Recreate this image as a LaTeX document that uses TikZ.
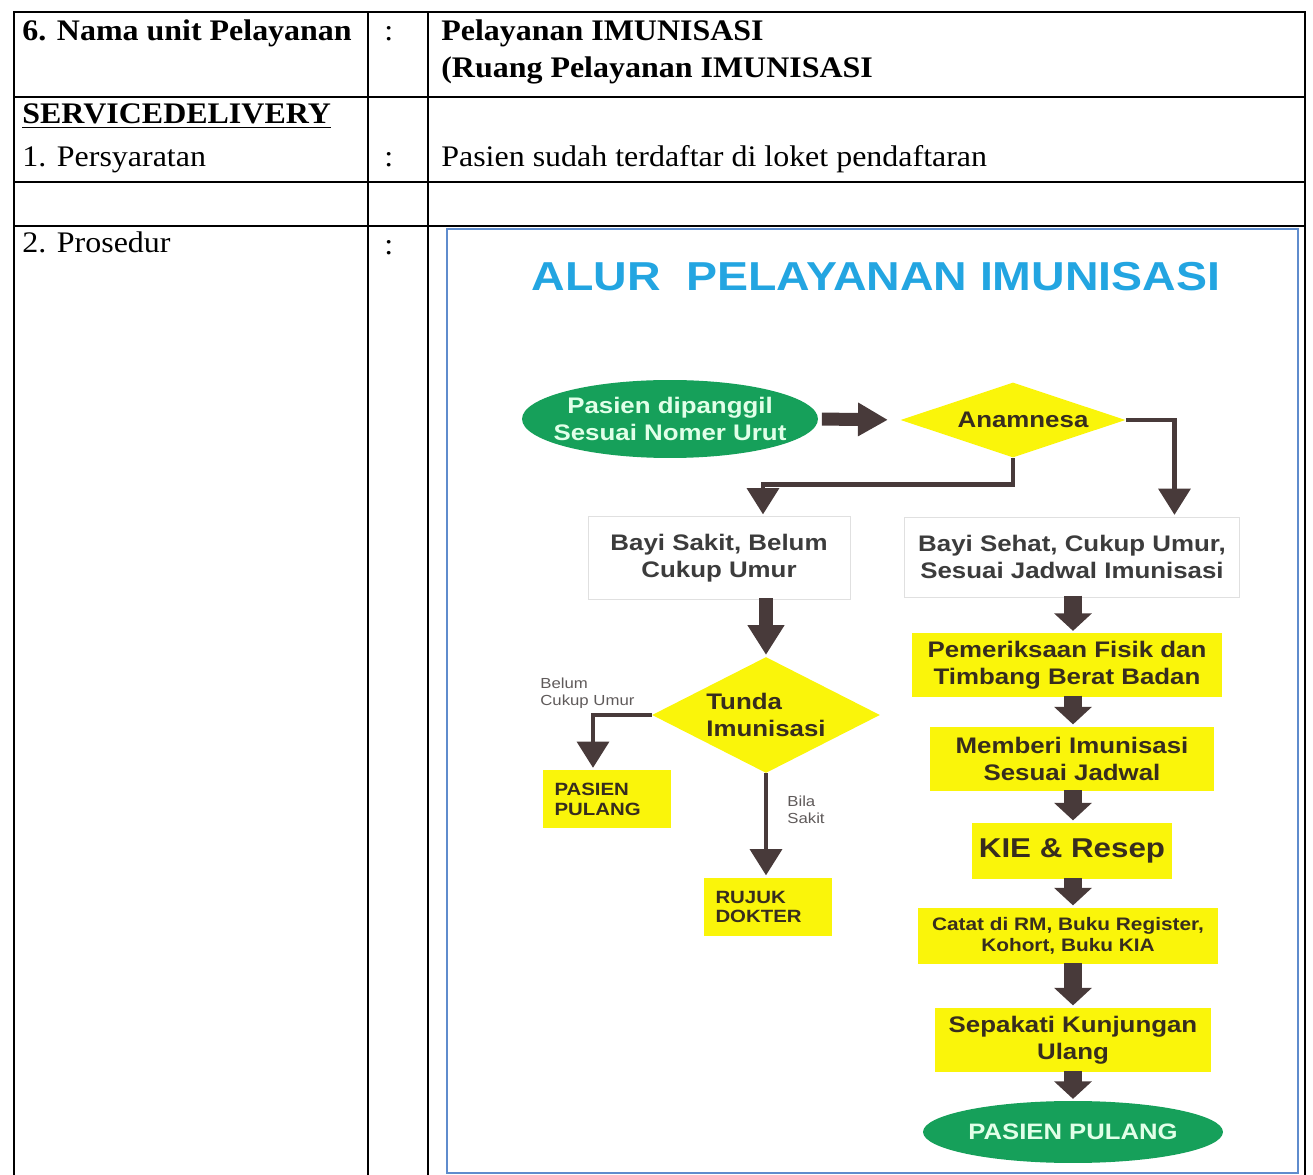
\documentclass[tikz,border=0pt]{standalone}
\usepackage{fontspec}
\setmainfont{Liberation Serif}[FakeStretch=1.07]
\newfontfamily\flowfont{Liberation Sans}[FakeStretch=1.15]
\usetikzlibrary{positioning,shapes.geometric,arrows.meta}

\definecolor{boxyellow}{RGB}{250,245,10}
\definecolor{boxtext}{RGB}{55,45,30}
\definecolor{graytext}{RGB}{60,60,60}
\definecolor{notegray}{RGB}{95,90,90}
\definecolor{ovalgreen}{RGB}{22,160,90}
\definecolor{ovaltext}{RGB}{225,255,232}
\definecolor{arrowbrown}{RGB}{72,58,58}
\definecolor{titleblue}{RGB}{35,165,225}
\definecolor{panelblue}{RGB}{95,140,205}

\newcommand{\flowsize}{\fontsize{12.8}{15.3}\selectfont}

\begin{document}
\begin{tikzpicture}[x=0.02cm, y=-0.02cm,
  tabtext/.style={anchor=base west, inner sep=0pt, font=\fontsize{17}{21}\selectfont},
  ybox/.style={rectangle, fill=boxyellow, text=boxtext, inner sep=0pt, align=center, font=\flowfont\bfseries\flowsize},
  wbox/.style={rectangle, draw=black!12, fill=white, text=graytext, inner sep=0pt, align=center, font=\flowfont\bfseries\flowsize},
  oval/.style={ellipse, fill=ovalgreen, text=ovaltext, inner xsep=-20pt, inner ysep=0pt, align=center, font=\flowfont\bfseries\flowsize},
  decision/.style={diamond, fill=boxyellow, text=boxtext, inner sep=0pt, font=\flowfont\bfseries\flowsize},
  blockarrow/.style={draw=arrowbrown, line width=10pt, -{Triangle[width=21pt,length=10pt]}, shorten <=-1pt, shorten >=1pt},
  link/.style={draw=arrowbrown, line width=2.8pt, -{Triangle[width=18pt,length=15pt]}, shorten >=1pt},
  note/.style={anchor=west, align=left, inner sep=0pt, text=notegray, font=\flowfont\fontsize{8.3}{9.6}\selectfont}]
\useasboundingbox (0,0) rectangle (1313,1175);

% Table grid
\draw[line width=1.2pt] (14,1175) -- (14,12) -- (1305,12) -- (1305,1175);
\draw[line width=1.2pt] (14,97) -- (1305,97);
\draw[line width=1.2pt] (14,182) -- (1305,182);
\draw[line width=1.2pt] (14,226) -- (1305,226);
\draw[line width=1.2pt] (368,12) -- (368,1175);
\draw[line width=1.2pt] (428,12) -- (428,1175);

% Table texts
\node[tabtext] (unit) at (22,41) {\bfseries 6. Nama unit Pelayanan};
\node[tabtext] (colon1) at (384,41) {:};
\node[tabtext] (unitname) at (441,41) {\bfseries Pelayanan IMUNISASI};
\node[tabtext] (room) at (441,78) {\bfseries (Ruang Pelayanan IMUNISASI};
\node[tabtext] (service) at (22,124) {\bfseries\underline{SERVICEDELIVERY}};
\node[tabtext] (req) at (22,167) {1. Persyaratan};
\node[tabtext] (colon2) at (384,167) {:};
\node[tabtext] (reqtext) at (441,167) {Pasien sudah terdaftar di loket pendaftaran};
\node[tabtext] (proc) at (22,253) {2. Prosedur};
\node[tabtext] (colon3) at (384,255) {:};

% Flowchart panel
\draw[panelblue, line width=1.2pt] (447,229) rectangle (1298,1173);
\node[text=titleblue, font=\flowfont\bfseries\fontsize{23}{26}\selectfont] (title) at (876,277) {ALUR\ \ PELAYANAN IMUNISASI};

% Start
\node[oval, minimum width=5.92cm, minimum height=1.56cm] (call) at (670,419) {Pasien dipanggil\\Sesuai Nomer Urut};

% Anamnesa
\node[decision, aspect=3, minimum width=4.5cm, minimum height=1.5cm] (anam) at (1013,420) {\hspace*{0.4cm}Anamnesa};

% Left branch
\node[wbox, minimum width=5.24cm, minimum height=1.66cm] (sick) at (719,558) {Bayi Sakit, Belum\\Cukup Umur};
\node[decision, aspect=2, align=left, minimum width=4.56cm, minimum height=2.32cm] (delay) at (766,715) {Tunda\\Imunisasi};
\node[ybox, align=left, text width=2.1cm, inner xsep=0.24cm, minimum height=1.16cm, font=\flowfont\bfseries\fontsize{10.1}{11.3}\selectfont] (home) at (607,799) {PASIEN\\PULANG};
\node[ybox, align=left, text width=2.1cm, inner xsep=0.24cm, minimum height=1.18cm, font=\flowfont\bfseries\fontsize{10.1}{11.3}\selectfont] (refer) at (768,907) {RUJUK\\DOKTER};
\node[note] (notehome) at (540,693) {Belum\\Cukup Umur};
\node[note] (noterefer) at (787,810) {Bila\\Sakit};

% Right branch
\node[wbox, minimum width=6.7cm, minimum height=1.6cm] (healthy) at (1072,557) {Bayi Sehat, Cukup Umur,\\Sesuai Jadwal Imunisasi};
\node[ybox, minimum width=6.2cm, minimum height=1.28cm] (exam) at (1067,665) {Pemeriksaan Fisik dan\\Timbang Berat Badan};
\node[ybox, minimum width=5.7cm, minimum height=1.3cm] (vaccinate) at (1072,759) {Memberi Imunisasi\\Sesuai Jadwal};
\node[ybox, minimum width=4.02cm, minimum height=1.14cm, font=\flowfont\bfseries\fontsize{15.5}{18}\selectfont] (kie) at (1072,851) {KIE \& Resep};
\node[ybox, minimum width=6.0cm, minimum height=1.14cm, font=\flowfont\bfseries\fontsize{10.3}{12.3}\selectfont] (record) at (1068,936) {Catat di RM, Buku Register,\\Kohort, Buku KIA};
\node[ybox, minimum width=5.54cm, minimum height=1.3cm] (revisit) at (1073,1040) {Sepakati Kunjungan\\Ulang};
\node[oval, minimum width=6.0cm, minimum height=1.24cm, font=\flowfont\bfseries\fontsize{12.7}{15}\selectfont] (finish) at (1073,1132) {PASIEN PULANG};

% Arrows
\draw[blockarrow, line width=7.4pt, -{Triangle[width=18pt,length=17pt]}, shorten <=2pt, shorten >=7pt] (call.east) -- (anam.west);
\draw[link] (anam.east) -| ([xshift=2.05cm]healthy.north);
\draw[link] (anam.south) -- ++(0,27) -| ([xshift=0.88cm]sick.north);
\draw[blockarrow, line width=8.5pt, -{Triangle[width=20pt,length=17pt]}] (sick.south -| delay.north) -- (delay.north);
\draw[link] (delay.west) -| ([xshift=-0.28cm]home.north);
\draw[link] (delay.south) -- (refer.north -| delay.south);
\draw[blockarrow] (healthy.south -| finish.north) -- (exam.north -| finish.north);
\draw[blockarrow] (exam.south -| finish.north) -- (vaccinate.north -| finish.north);
\draw[blockarrow] (vaccinate.south -| finish.north) -- (kie.north -| finish.north);
\draw[blockarrow] (kie.south -| finish.north) -- (record.north -| finish.north);
\draw[blockarrow] (record.south -| finish.north) -- (revisit.north -| finish.north);
\draw[blockarrow] (revisit.south -| finish.north) -- (finish.north);
\end{tikzpicture}
\end{document}
